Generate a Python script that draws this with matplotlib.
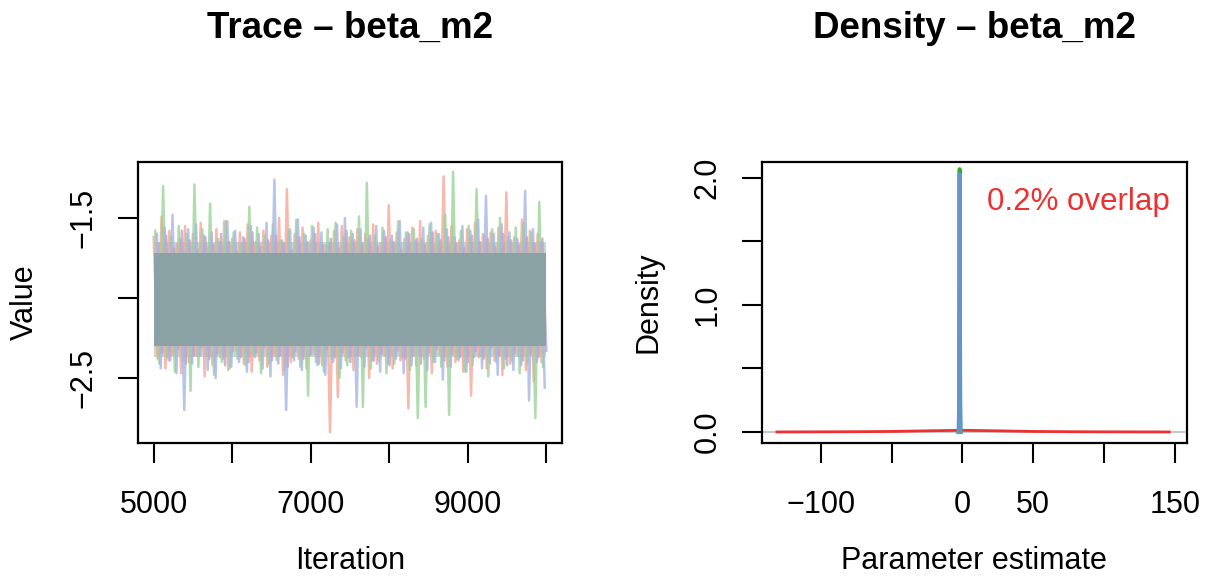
import numpy as np
import matplotlib.pyplot as plt

plt.rcParams['font.family'] = ['Liberation Sans', 'DejaVu Sans']

# trace: upper / lower excursions of each chain
red_hi = [-1.62, -1.49, -1.58, -1.66, -1.55, -1.60, -1.53, -1.68, -1.57, -1.52,
          -1.63, -1.59, -1.54, -1.65, -1.58, -1.61, -1.50, -1.32, -1.60, -1.56,
          -1.64, -1.53, -1.67, -1.58, -1.55, -1.62, -1.57, -1.60, -1.54, -1.66,
          -1.42, -1.59, -1.63, -1.56, -1.52, -1.61, -1.58, -1.24, -1.55, -1.64,
          -1.57, -1.53, -1.60, -1.59, -1.56, -1.34, -1.62, -1.51, -1.58, -1.60]
red_lo = [-2.38, -2.44, -2.35, -2.47, -2.40, -2.36, -2.49, -2.42, -2.37, -2.45,
          -2.33, -2.41, -2.46, -2.39, -2.43, -2.36, -2.48, -2.40, -2.38, -2.44,
          -2.35, -2.42, -2.84, -2.62, -2.39, -2.45, -2.37, -2.50, -2.41, -2.36,
          -2.44, -2.39, -2.69, -2.42, -2.38, -2.47, -2.35, -2.43, -2.40, -2.46,
          -2.61, -2.37, -2.44, -2.39, -2.48, -2.41, -2.36, -2.45, -2.52, -2.40]
green_hi = [-1.58, -1.30, -1.62, -1.55, -1.60, -1.29, -1.57, -1.41, -1.63, -1.52,
            -1.59, -1.66, -1.43, -1.56, -1.61, -1.54, -1.64, -1.58, -1.51, -1.60,
            -1.55, -1.67, -1.57, -1.53, -1.62, -1.58, -1.49, -1.28, -1.61, -1.56,
            -1.64, -1.52, -1.59, -1.57, -1.63, -1.54, -1.60, -1.48, -1.21, -1.58,
            -1.55, -1.32, -1.61, -1.57, -1.50, -1.62, -1.56, -1.53, -1.59, -1.40]
green_lo = [-2.41, -2.37, -2.46, -2.39, -2.58, -2.43, -2.36, -2.48, -2.40, -2.44,
            -2.38, -2.42, -2.35, -2.47, -2.41, -2.39, -2.45, -2.37, -2.43, -2.61,
            -2.40, -2.46, -2.38, -2.50, -2.42, -2.36, -2.68, -2.44, -2.39, -2.47,
            -2.41, -2.37, -2.45, -2.75, -2.68, -2.40, -2.43, -2.73, -2.38, -2.46,
            -2.42, -2.36, -2.49, -2.40, -2.44, -2.39, -2.47, -2.41, -2.75, -2.43]
blue_hi = [-1.60, -1.56, -1.48, -1.63, -1.57, -1.54, -1.61, -1.59, -1.65, -1.52,
           -1.58, -1.62, -1.55, -1.60, -1.53, -1.26, -1.64, -1.57, -1.51, -1.61,
           -1.56, -1.59, -1.66, -1.54, -1.50, -1.60, -1.57, -1.63, -1.55, -1.58,
           -1.61, -1.52, -1.59, -1.64, -1.56, -1.53, -1.60, -1.57, -1.62, -1.55,
           -1.58, -1.51, -1.36, -1.60, -1.54, -1.59, -1.63, -1.33, -1.57, -1.65]
blue_lo = [-2.44, -2.39, -2.47, -2.70, -2.41, -2.36, -2.45, -2.50, -2.38, -2.43,
           -2.40, -2.46, -2.37, -2.44, -2.49, -2.41, -2.70, -2.39, -2.45, -2.36,
           -2.42, -2.48, -2.40, -2.44, -2.37, -2.68, -2.43, -2.39, -2.46, -2.41,
           -2.38, -2.47, -2.42, -2.36, -2.45, -2.40, -2.51, -2.43, -2.39, -2.46,
           -2.37, -2.44, -2.41, -2.48, -2.38, -2.45, -2.42, -2.64, -2.40, -2.56]
purple_hi = [-1.66, -1.61, -1.69, -1.58, -1.64, -1.70, -1.62, -1.67, -1.60, -1.65,
             -1.71, -1.63, -1.59, -1.68, -1.64, -1.61, -1.66, -1.70, -1.62, -1.65,
             -1.60, -1.67, -1.63, -1.69, -1.58, -1.64, -1.66, -1.61, -1.68, -1.62,
             -1.65, -1.70, -1.60, -1.63, -1.67, -1.59, -1.64, -1.62, -1.66, -1.69,
             -1.61, -1.65, -1.63, -1.68, -1.60, -1.64, -1.67, -1.62, -1.66, -1.63]
purple_lo = [-2.34, -2.39, -2.32, -2.41, -2.36, -2.31, -2.38, -2.35, -2.42, -2.33,
             -2.37, -2.40, -2.34, -2.31, -2.39, -2.36, -2.43, -2.33, -2.38, -2.35,
             -2.41, -2.32, -2.37, -2.34, -2.40, -2.36, -2.31, -2.39, -2.35, -2.42,
             -2.33, -2.38, -2.36, -2.41, -2.34, -2.32, -2.39, -2.35, -2.37, -2.40,
             -2.33, -2.38, -2.31, -2.36, -2.42, -2.34, -2.39, -2.35, -2.37, -2.33]
core_band = [-2.30, -1.72]
outer_band = [-2.37, -1.65]
iter_range = [5000, 10000]
chain_colors = ['#F7A696', '#9DD399', '#A6B7E3', '#C2A6C6']

# density panel
post_x = [-2.8, -2.6, -2.4, -2.2, -2.1, -2.0, -1.9, -1.8, -1.6, -1.4, -1.2]
post_green = [0.0, 0.02, 0.24, 1.24, 1.80, 2.07, 1.80, 1.24, 0.24, 0.02, 0.0]
post_blue = [0.0, 0.02, 0.24, 1.24, 1.80, 2.03, 1.80, 1.24, 0.24, 0.02, 0.0]
prior_x = [-131, -100, -75, -50, -25, 0, 25, 50, 75, 100, 146]
prior_y = [0.0, 0.001, 0.002, 0.004, 0.009, 0.013, 0.009, 0.004, 0.002, 0.001, 0.0]
overlap_text = '0.2% overlap'

W, H = 1209, 578
fig = plt.figure(figsize=(W / 100, H / 100), dpi=100)
ax1 = fig.add_axes([138 / W, 1 - 443 / H, 424 / W, 281 / H])
ax2 = fig.add_axes([762 / W, 1 - 443 / H, 425 / W, 281 / H])

ax1.fill_between(iter_range, outer_band[0], outer_band[1], color='#8BA2A5',
                 alpha=0.45, lw=0, zorder=1)
his = [red_hi, green_hi, blue_hi, purple_hi]
los = [red_lo, green_lo, blue_lo, purple_lo]
for c in range(4):
    n = len(his[c])
    x = np.linspace(iter_range[0] + 20 * c, iter_range[1] - 60 + 20 * c, 2 * n)
    y = np.empty(2 * n)
    y[0::2] = his[c]
    y[1::2] = los[c]
    ax1.plot(x, y, color=chain_colors[c], lw=1.8, alpha=0.8, zorder=2)
ax1.fill_between(iter_range, core_band[0], core_band[1], color='#8BA2A5', lw=0, zorder=3)

ax1.set_xlim(4800, 10200)
ax1.set_ylim(-2.906, -1.15)
ax1.set_xticks(np.arange(5000, 10001, 1000))
ax1.set_xticklabels(['5000', '', '7000', '', '9000', ''])
ax1.set_yticks([-2.5, -2.0, -1.5])
ax1.set_yticklabels(['\u22122.5', '', '\u22121.5'], rotation=90, va='center')

ax2.axhline(0, color='#BEBEBE', lw=1.2, zorder=1)
ax2.plot(prior_x, prior_y, color='#EE3030', lw=2.0, zorder=2)
ax2.plot(post_x, post_green, color='#2CB02C', lw=2.8, zorder=3)
ax2.plot(post_x, post_blue, color='#6594CC', lw=2.8, zorder=4)
ax2.text(0.96, 0.857, overlap_text, transform=ax2.transAxes, ha='right', va='center',
         color='#EE3030', fontsize=22.5)
ax2.set_xlim(-141.5, 158.5)
ax2.set_ylim(-0.087, 2.126)
ax2.set_xticks([-100, -50, 0, 50, 100, 150])
ax2.set_xticklabels(['\u2212100', '', '0', '50', '', '150'])
ax2.set_yticks([0, 0.5, 1.0, 1.5, 2.0])
ax2.set_yticklabels(['0.0', '', '1.0', '', '2.0'], rotation=90, va='center')

for ax in (ax1, ax2):
    for s in ax.spines.values():
        s.set_linewidth(1.6)
    ax.tick_params(direction='out', length=14.5, width=1.5, labelsize=22, pad=19)
    ax.tick_params(axis='y', pad=14)

fig.text(350 / W, 1 - 28 / H, 'Trace \u2013 beta_m2', ha='center', va='center',
         fontsize=26.5, fontweight='bold')
fig.text(974 / W, 1 - 28 / H, 'Density \u2013 beta_m2', ha='center', va='center',
         fontsize=26.5, fontweight='bold')
fig.text(350 / W, 1 - 561 / H, 'Iteration', ha='center', va='center', fontsize=22)
fig.text(974 / W, 1 - 561 / H, 'Parameter estimate', ha='center', va='center', fontsize=22)
fig.text(25 / W, 1 - 302 / H, 'Value', ha='center', va='center', rotation=90, fontsize=22)
fig.text(649 / W, 1 - 302 / H, 'Density', ha='center', va='center', rotation=90, fontsize=22)

fig.savefig('out.png', dpi=100)
